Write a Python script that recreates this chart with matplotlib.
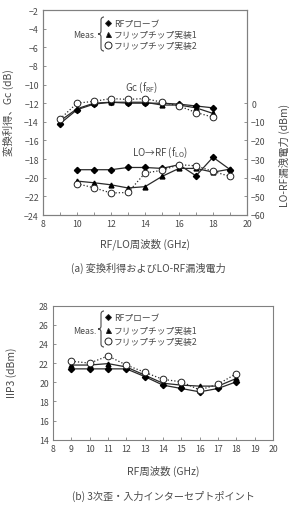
import matplotlib
matplotlib.use("Agg")
import matplotlib.pyplot as plt
from matplotlib.path import Path
from matplotlib.patches import PathPatch

plt.rcParams['font.family'] = ['Noto Sans CJK JP', 'DejaVu Sans']
plt.rcParams['mathtext.fontset'] = 'dejavusans'

# ---- data ----
freq_gc = [9, 10, 11, 12, 13, 14, 15, 16, 17, 18]
gc_probe = [-14.2, -12.7, -12.1, -11.9, -12.0, -12.0, -12.0, -12.1, -12.3, -12.5]
gc_flip1 = [-13.9, -12.6, -12.0, -11.9, -11.9, -11.9, -12.2, -12.2, -12.5, -13.1]
gc_flip2 = [-13.7, -12.0, -11.8, -11.5, -11.6, -11.5, -11.9, -12.3, -13.0, -13.5]

freq_lo = [10, 11, 12, 13, 14, 15, 16, 17, 18, 19]
lo_probe = [-35.7, -35.7, -35.7, -34.5, -34.5, -35.0, -33.0, -39.0, -29.0, -35.6]
lo_flip1 = [-41.8, -42.7, -43.8, -45.5, -44.8, -39.3, -35.0, -35.0, -37.0, -35.4]
lo_flip2 = [-43.2, -45.4, -48.2, -47.9, -37.5, -36.0, -33.0, -33.6, -36.6, -39.3]

freq_ip = [9, 10, 11, 12, 13, 14, 15, 16, 17, 18]
ip_probe = [21.4, 21.4, 21.4, 21.4, 20.6, 19.7, 19.35, 19.0, 19.35, 20.05]
ip_flip1 = [21.8, 21.8, 21.95, 21.6, 20.75, 19.9, 19.7, 19.6, 19.6, 20.4]
ip_flip2 = [22.2, 22.0, 22.75, 21.8, 21.05, 20.3, 20.05, 19.2, 19.8, 20.9]

legend_labels = ['RFプローブ', 'フリップチップ実装1', 'フリップチップ実装2']

TXT = '#4a4a4a'
LINE = '#2a2a2a'
SP = '#808080'

fig = plt.figure(figsize=(2.92, 5.10), dpi=100)
W, H = 292, 510

def ax_rect(l, t, r, b):
    return [l / W, 1 - b / H, (r - l) / W, (b - t) / H]

def style_ax(ax):
    for s in ax.spines.values():
        s.set_color(SP)
        s.set_linewidth(0.8)
    ax.tick_params(direction='in', length=2.5, width=0.6, colors=SP,
                   labelcolor=TXT, labelsize=6.3, pad=3)

def plot3(ax, x, a, b, c, ms=3.5):
    ax.plot(x, a, '-', color=LINE, lw=0.9, marker='D', ms=ms * 0.9,
            mfc='black', mec='black', zorder=4)
    ax.plot(x, b, '-', color=LINE, lw=0.9, marker='^', ms=ms,
            mfc='black', mec='black', zorder=3)
    ax.plot(x, c, ':', color=LINE, lw=0.9, marker='o', ms=ms + 1.3,
            mfc='white', mec='#222222', mew=0.7, zorder=5)

def brace(fig, xt, xm, xtip, y0, y1):
    ym = (y0 + y1) / 2
    pts = [(xt, y0), (xm + 1.5, y0), (xm, y0 + 1), (xm, y0 + 3),
           (xm, ym - 3),
           (xm, ym - 1), (xm - 1, ym), (xtip, ym),
           (xm - 1, ym), (xm, ym + 1), (xm, ym + 3),
           (xm, y1 - 3),
           (xm, y1 - 1), (xm + 1.5, y1), (xt, y1)]
    codes = [Path.MOVETO, Path.CURVE4, Path.CURVE4, Path.CURVE4,
             Path.LINETO,
             Path.CURVE4, Path.CURVE4, Path.CURVE4,
             Path.CURVE4, Path.CURVE4, Path.CURVE4,
             Path.LINETO,
             Path.CURVE4, Path.CURVE4, Path.CURVE4]
    verts = [(x / W, 1 - y / H) for x, y in pts]
    fig.patches.append(PathPatch(Path(verts, codes), fc='none', ec=TXT,
                                 lw=0.8, transform=fig.transFigure))

def legend(fig, xm, ys, xmeas, ymeas):
    fig.text(xmeas / W, 1 - ymeas / H, 'Meas.', fontsize=6.3, color=TXT,
             ha='right', va='center')
    brace(fig, 104, 101, 98, ys[0] - 6, ys[-1] + 6)
    mk = [('D', 'black', 3.0), ('^', 'black', 3.6), ('o', 'white', 5.0)]
    for (m, fc, s), y, lab in zip(mk, ys, legend_labels):
        fig.lines.append(plt.Line2D([xm / W], [1 - y / H], marker=m, ms=s,
                                    mfc=fc, mec='#222222', mew=0.7, ls='',
                                    transform=fig.transFigure))
        fig.text((xm + 6) / W, 1 - y / H, lab, fontsize=6.3, color=TXT,
                 ha='left', va='center')

# ---- top chart ----
ax1 = fig.add_axes(ax_rect(43, 11, 247, 216))
style_ax(ax1)
ax1.set_xlim(8, 20)
ax1.set_ylim(-24, -2)
ax1.set_xticks(range(8, 21, 2))
ax1.set_xticks(range(8, 21, 1), minor=True)
ax1.tick_params(which='minor', direction='in', length=2.5, width=0.6, colors=SP)
ax1.set_yticks(range(-24, -1, 2))
plot3(ax1, freq_gc, gc_probe, gc_flip1, gc_flip2)
ax1.tick_params(axis='y', right=False)

ax2 = ax1.twinx()
style_ax(ax2)
ax2.set_ylim(-60, 50)
ax2.set_yticks(range(-60, 1, 10))
plot3(ax2, freq_lo, lo_probe, lo_flip1, lo_flip2)

ax1.text(13.8, -10.2, r'Gc (f$_{\mathregular{RF}}$)', fontsize=7, color=TXT,
         ha='center', va='center')
ax1.text(14.9, -17.2, 'LO→RF (f$_{\\mathregular{LO}}$)', fontsize=7, color=TXT,
         ha='center', va='center')

fig.text(8 / W, 1 - 113 / H, '変換利得、Gc (dB)', rotation=90, fontsize=7.5,
         color=TXT, ha='center', va='center')
fig.text(284 / W, 1 - 155 / H, 'LO-RF漏洩電力 (dBm)', rotation=90, fontsize=7.5,
         color=TXT, ha='center', va='center')
fig.text(145 / W, 1 - 244 / H, 'RF/LO周波数 (GHz)', fontsize=7.5,
         color=TXT, ha='center', va='center')
fig.text(148 / W, 1 - 268 / H, '(a) 変換利得およびLO-RF漏洩電力', fontsize=7.3,
         color=TXT, ha='center', va='center')

legend(fig, 108, [24, 35, 46], 96, 35)

# ---- bottom chart ----
ax3 = fig.add_axes(ax_rect(53, 306.7, 273, 440.7))
style_ax(ax3)
ax3.set_xlim(8, 20)
ax3.set_ylim(14, 28)
ax3.set_xticks(range(8, 21, 1))
ax3.set_yticks(range(14, 29, 2))
plot3(ax3, freq_ip, ip_probe, ip_flip1, ip_flip2)

fig.text(12 / W, 1 - 373 / H, 'IIP3 (dBm)', rotation=90, fontsize=7.5,
         color=TXT, ha='center', va='center')
fig.text(163 / W, 1 - 471 / H, 'RF周波数 (GHz)', fontsize=7.5,
         color=TXT, ha='center', va='center')
fig.text(163 / W, 1 - 496 / H, '(b) 3次歪・入力インターセプトポイント', fontsize=7.3,
         color=TXT, ha='center', va='center')

legend(fig, 108, [318, 331, 342], 96, 331)

fig.savefig('out.png', dpi=100)
